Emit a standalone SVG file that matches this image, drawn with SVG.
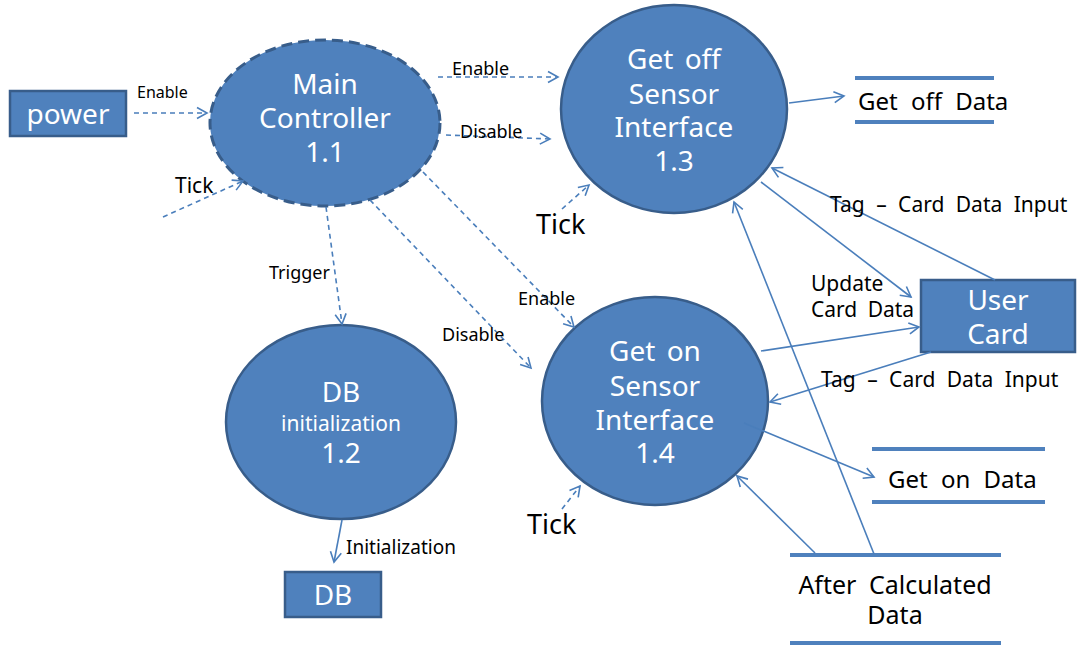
<svg xmlns="http://www.w3.org/2000/svg" width="1077" height="647" viewBox="0 0 1077 647">
<style>
text{font-family:"Noto Sans","Open Sans","DejaVu Sans",sans-serif}
.node{fill:#4F81BD;stroke:#385D8A;stroke-width:2.5}
.wt{fill:#fff;font-size:28px;text-anchor:middle;word-spacing:4px}
.lbl{fill:#000;font-size:18px}
.big{fill:#000;font-size:24px;word-spacing:7px}
.c{fill:none;stroke:#4A7EBB;stroke-width:1.6}
.d{stroke-dasharray:5 4}
.store{stroke:#4F81BD;stroke-width:4}
</style>
<defs>
<marker id="ah" markerUnits="userSpaceOnUse" markerWidth="14" markerHeight="14" refX="11" refY="6" orient="auto" viewBox="0 0 14 12">
<path d="M1,0.5 L11,6 L1,11.5" fill="none" stroke="#4A7EBB" stroke-width="1.6" stroke-dasharray="none"/>
</marker>
</defs>
<rect width="1077" height="647" fill="#fff"/>

<g id="power">
<rect class="node" x="10" y="91" width="116" height="45"/>
<text class="wt" x="68" y="124">power</text>
</g>
<g id="main-controller">
<ellipse cx="325" cy="123" rx="115" ry="83" fill="#4F81BD" stroke="#385D8A" stroke-width="3" stroke-dasharray="11 6"/>
<text class="wt" x="325" y="94">Main</text>
<text class="wt" x="325" y="128">Controller</text>
<text class="wt" x="325" y="162">1.1</text>
</g>
<g id="get-off-sensor">
<ellipse class="node" cx="674" cy="109" rx="113" ry="104"/>
<text class="wt" x="674" y="69">Get off</text>
<text class="wt" x="674" y="104">Sensor</text>
<text class="wt" x="674" y="137">Interface</text>
<text class="wt" x="674" y="171">1.3</text>
</g>
<g id="db-init">
<ellipse class="node" cx="341" cy="422" rx="115" ry="97"/>
<text class="wt" x="341" y="402">DB</text>
<text class="wt" x="341" y="431" style="font-size:21px">initialization</text>
<text class="wt" x="341" y="463">1.2</text>
</g>
<g id="get-on-sensor">
<ellipse class="node" cx="655" cy="401" rx="113" ry="104"/>
<text class="wt" x="655" y="361">Get on</text>
<text class="wt" x="655" y="396">Sensor</text>
<text class="wt" x="655" y="430">Interface</text>
<text class="wt" x="655" y="463">1.4</text>
</g>
<g id="db">
<rect class="node" x="285" y="572" width="96" height="45"/>
<text class="wt" x="333" y="605">DB</text>
</g>
<g id="user-card">
<rect class="node" x="921" y="280" width="154" height="72"/>
<text class="wt" x="998" y="310">User</text>
<text class="wt" x="998" y="344">Card</text>
</g>
<g id="get-off-data">
<line class="store" x1="855" y1="78" x2="994" y2="78"/>
<line class="store" x1="855" y1="122" x2="994" y2="122"/>
<text class="big" x="858" y="110">Get off Data</text>
</g>
<g id="get-on-data">
<line class="store" x1="872" y1="449" x2="1045" y2="449"/>
<line class="store" x1="872" y1="502" x2="1045" y2="502"/>
<text class="big" x="888" y="488">Get on Data</text>
</g>
<g id="after-calculated-data">
<line class="store" x1="790" y1="555" x2="1001" y2="555"/>
<line class="store" x1="790" y1="643" x2="1001" y2="643"/>
<text class="big" x="895" y="594" text-anchor="middle" style="font-size:25px;word-spacing:6px">After Calculated</text>
<text class="big" x="895" y="624" text-anchor="middle" style="font-size:25px">Data</text>
</g>

<g id="connectors">
<line class="c d" x1="134" y1="113" x2="207" y2="113" marker-end="url(#ah)"/>
<line class="c d" x1="163" y1="217" x2="243" y2="181" marker-end="url(#ah)"/>
<line class="c d" x1="438" y1="77" x2="558" y2="77" marker-end="url(#ah)"/>
<line class="c d" x1="446" y1="135" x2="550" y2="139" marker-end="url(#ah)"/>
<line class="c d" x1="326" y1="207" x2="342" y2="324" marker-end="url(#ah)"/>
<line class="c d" x1="423" y1="172" x2="574" y2="327" marker-end="url(#ah)"/>
<line class="c d" x1="370" y1="200" x2="531" y2="368" marker-end="url(#ah)"/>
<line class="c d" x1="562" y1="209" x2="589" y2="185" marker-end="url(#ah)"/>
<line class="c d" x1="562" y1="509" x2="580" y2="486" marker-end="url(#ah)"/>
<line class="c" x1="342" y1="520" x2="334" y2="562" marker-end="url(#ah)"/>
<line class="c" x1="789" y1="103" x2="844" y2="96" marker-end="url(#ah)"/>
<line class="c" x1="995" y1="280" x2="772" y2="168" marker-end="url(#ah)"/>
<line class="c" x1="761" y1="182" x2="911" y2="297" marker-end="url(#ah)"/>
<line class="c" x1="874" y1="554" x2="734" y2="202" marker-end="url(#ah)"/>
<line class="c" x1="761" y1="351" x2="919" y2="327" marker-end="url(#ah)"/>
<line class="c" x1="931" y1="352" x2="770" y2="402" marker-end="url(#ah)"/>
<line class="c" x1="744" y1="423" x2="874" y2="477" marker-end="url(#ah)"/>
<line class="c" x1="815" y1="553" x2="737" y2="476" marker-end="url(#ah)"/>
</g>

<g id="labels">
<text class="lbl" x="137" y="98" style="font-size:16px">Enable</text>
<text class="lbl" x="175" y="193" style="font-size:21px">Tick</text>
<text class="lbl" x="452" y="75">Enable</text>
<text class="lbl" x="460" y="138">Disable</text>
<text class="lbl" x="269" y="279">Trigger</text>
<text class="lbl" x="518" y="305">Enable</text>
<text class="lbl" x="442" y="341">Disable</text>
<text class="lbl" x="346" y="554" style="font-size:19px">Initialization</text>
<text class="lbl" x="536" y="234" style="font-size:27px">Tick</text>
<text class="lbl" x="527" y="534" style="font-size:27px">Tick</text>
<text class="lbl" x="830" y="212" style="font-size:21px;word-spacing:6px">Tag – Card Data Input</text>
<text class="lbl" x="821" y="387" style="font-size:21px;word-spacing:6px">Tag – Card Data Input</text>
<text class="lbl" x="811" y="291" style="font-size:21px">Update</text>
<text class="lbl" x="811" y="317" style="font-size:21px;word-spacing:5px">Card Data</text>
</g>
</svg>
